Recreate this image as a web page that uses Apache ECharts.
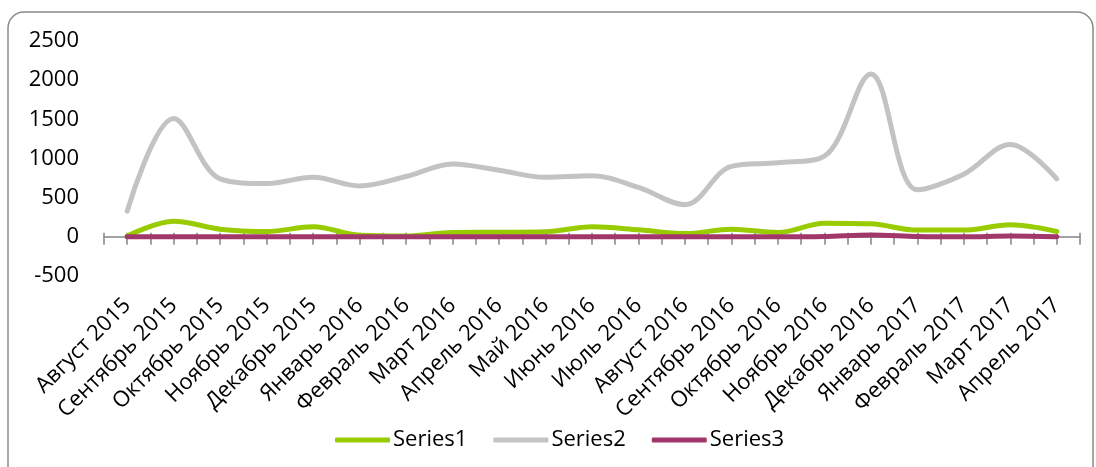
<!DOCTYPE html>
<html>
<head>
<meta charset="utf-8">
<script src="https://cdn.jsdelivr.net/npm/echarts@6/dist/echarts.min.js"></script>
<style>
  html, body { margin: 0; padding: 0; background: #fff; }
  #chart { width: 1096px; height: 467px; }
</style>
</head>
<body>
<div id="chart"></div>
<script>
// Monthly categories
const months = [
  'Август 2015', 'Сентябрь 2015', 'Октябрь 2015', 'Ноябрь 2015', 'Декабрь 2015',
  'Январь 2016', 'Февраль 2016', 'Март 2016', 'Апрель 2016', 'Май 2016',
  'Июнь 2016', 'Июль 2016', 'Август 2016', 'Сентябрь 2016', 'Октябрь 2016',
  'Ноябрь 2016', 'Декабрь 2016', 'Январь 2017', 'Февраль 2017', 'Март 2017', 'Апрель 2017'
];

const series1 = [10, 200, 98, 68, 128, 20, 10, 55, 58, 64, 128, 90, 42, 98, 55, 175, 166, 86, 86, 154, 68];
const series2 = [330, 1510, 740, 680, 760, 650, 770, 930, 850, 760, 780, 630, 410, 900, 945, 1030, 2080, 600, 800, 1180, 740];
const series3 = [0, 0, 0, 0, 0, 0, 0, 0, 0, 0, 0, 0, 0, 0, 0, 5, 25, 5, 0, 10, 0];

const yTicks = { min: -500, max: 2500, step: 500 };

const FONT = '"Open Sans", "DejaVu Sans", sans-serif';
const AXIS_GRAY = '#858585';
const chart = echarts.init(document.getElementById('chart'), null, { renderer: 'canvas' });

// Tick axes: one tick per half-month, spanning the category band
const halfSteps = months.length * 2;

function tickAxis(zeroIndex, inside, length, showLine) {
  return {
    type: 'value',
    position: 'bottom',
    min: 0,
    max: halfSteps,
    interval: 1,
    axisLine: {
      show: showLine,
      onZero: true,
      onZeroAxisIndex: zeroIndex,
      lineStyle: { color: AXIS_GRAY, width: 1.5 }
    },
    axisTick: { show: true, inside: inside, length: length, lineStyle: { color: AXIS_GRAY, width: 1.5 } },
    axisLabel: { show: false },
    splitLine: { show: false }
  };
}

function hiddenY() {
  return {
    type: 'value',
    min: yTicks.min,
    max: yTicks.max,
    interval: yTicks.step,
    show: false
  };
}

chart.setOption({
  animation: false,
  backgroundColor: '#fff',
  textStyle: { fontFamily: FONT },
  graphic: [{
    type: 'rect',
    shape: { x: 8, y: 12, width: 1085, height: 470, r: 16 },
    style: { fill: 'none', stroke: '#8a8a8a', lineWidth: 1.5 },
    silent: true,
    z: -10
  }],
  grid: { left: 104, right: 16, top: 41, bottom: 191, containLabel: false },
  legend: {
    left: 330,
    top: 424,
    icon: 'roundRect',
    itemWidth: 55,
    itemHeight: 5,
    itemGap: 26,
    textStyle: { fontFamily: FONT, fontSize: 22, color: '#000', padding: [0, 0, 0, -2] },
    data: ['Series1', 'Series2', 'Series3']
  },
  xAxis: [
    {
      type: 'category',
      position: 'bottom',
      data: months,
      boundaryGap: true,
      axisLine: { show: false, onZero: true, onZeroAxisIndex: 0 },
      axisTick: { show: false },
      axisLabel: {
        interval: 0,
        rotate: 45,
        margin: 26,
        fontFamily: FONT,
        fontSize: 22,
        color: '#000'
      }
    },
    tickAxis(1, false, 8, true),
    tickAxis(2, true, 4, false)
  ],
  yAxis: [
    {
      type: 'value',
      min: yTicks.min,
      max: yTicks.max,
      interval: yTicks.step,
      axisLine: { show: false },
      axisTick: { show: false },
      splitLine: { show: false },
      axisLabel: {
        margin: 25,
        fontFamily: FONT,
        fontSize: 22,
        color: '#000',
        formatter: (v) => String(v)
      }
    },
    hiddenY(),
    hiddenY()
  ],
  series: [
    {
      name: 'Series1', type: 'line', data: series1, smooth: 0.35,
      showSymbol: false, symbol: 'none',
      lineStyle: { color: '#99cc00', width: 5, cap: 'round' },
      itemStyle: { color: '#99cc00' }
    },
    {
      name: 'Series2', type: 'line', data: series2, smooth: 0.35,
      showSymbol: false, symbol: 'none',
      lineStyle: { color: '#c3c3c3', width: 5, cap: 'round' },
      itemStyle: { color: '#c3c3c3' }
    },
    {
      name: 'Series3', type: 'line', data: series3, smooth: 0.35,
      showSymbol: false, symbol: 'none',
      lineStyle: { color: '#a2376b', width: 5, cap: 'round' },
      itemStyle: { color: '#a2376b' }
    }
  ]
});
</script>
</body>
</html>
